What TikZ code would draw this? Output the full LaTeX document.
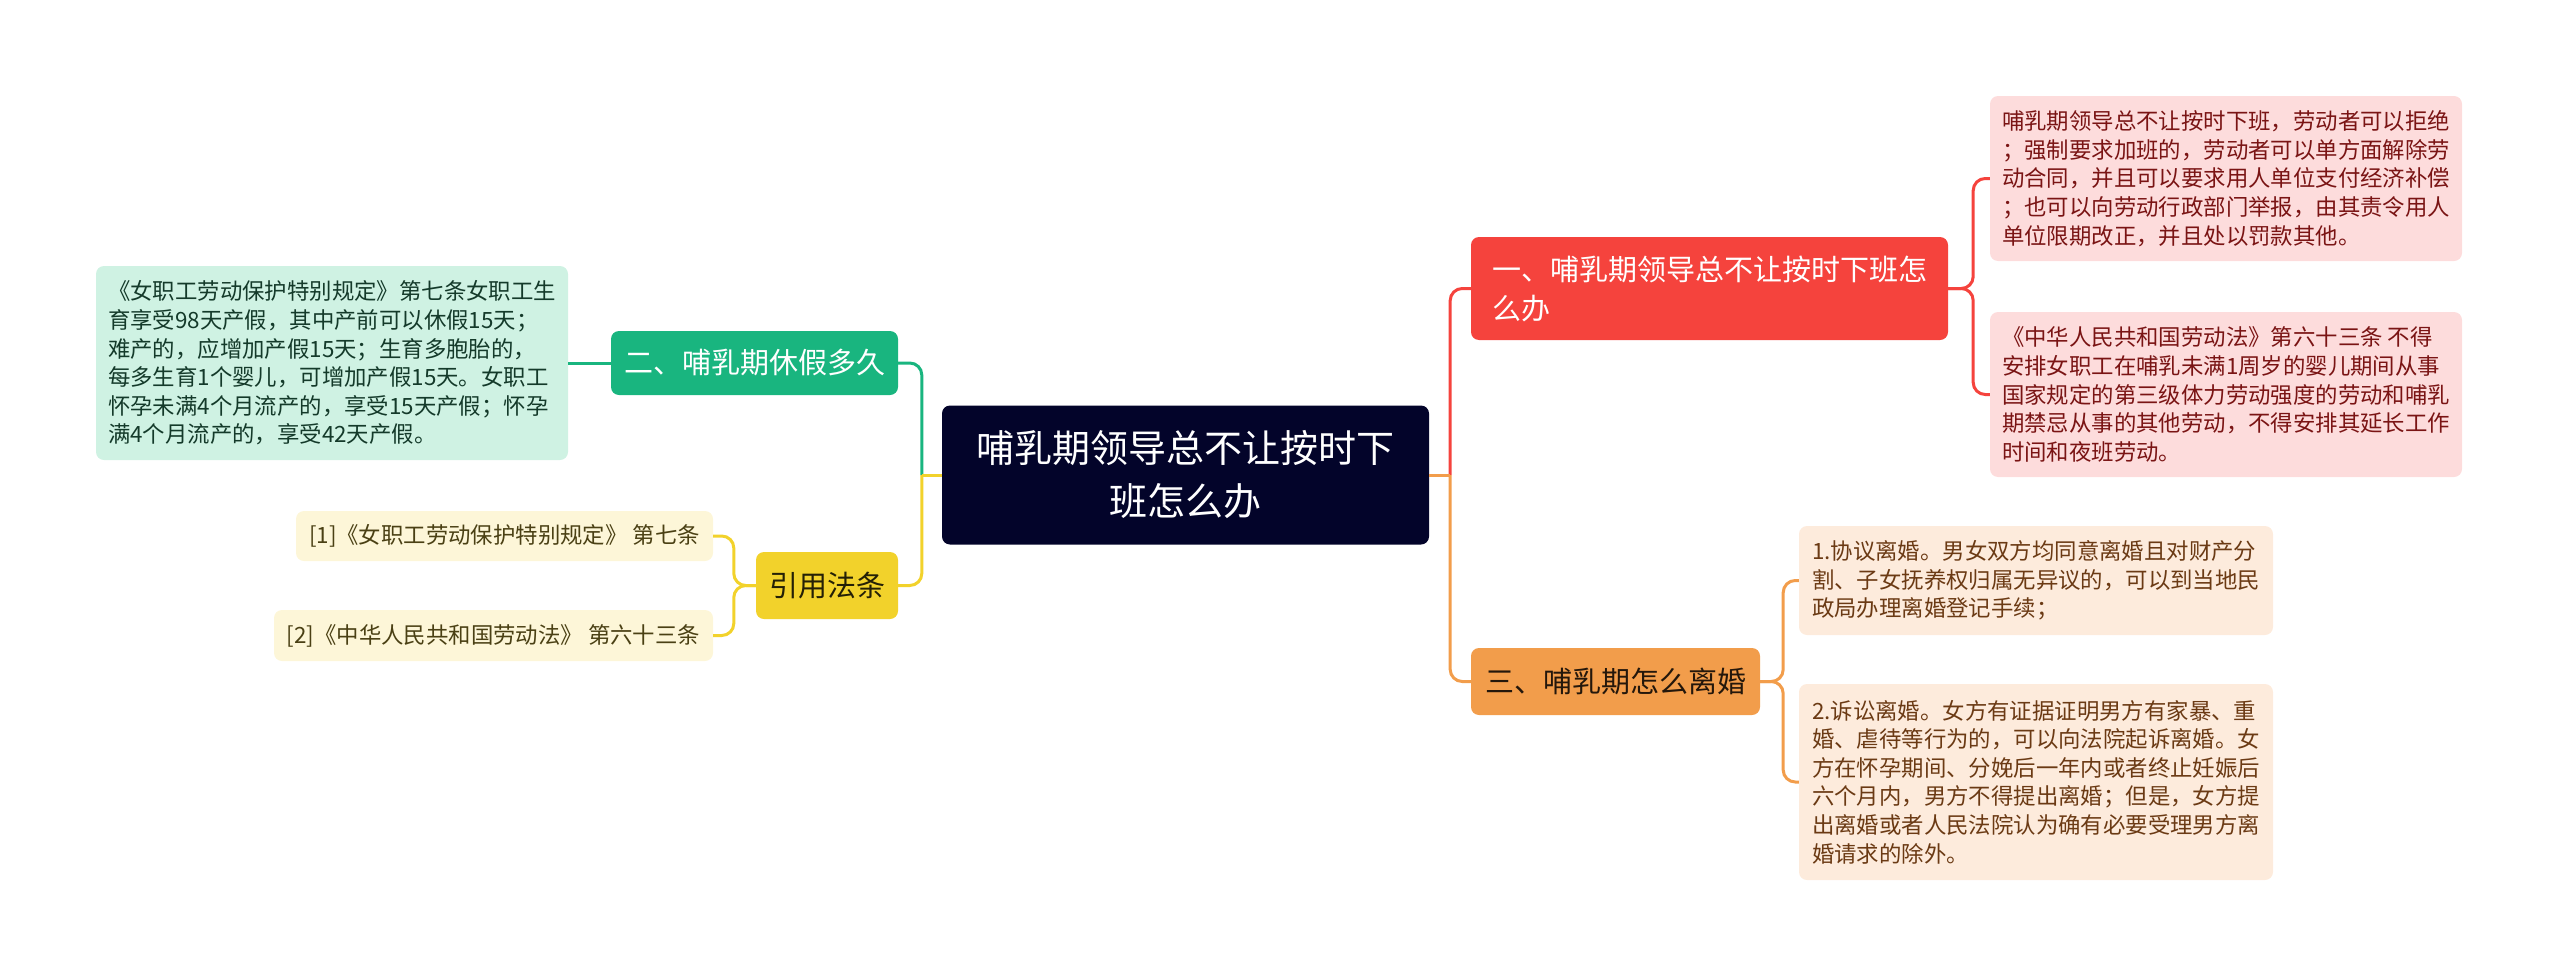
\documentclass[tikz,border=0pt]{standalone}
\usepackage{fontspec}
\setmainfont{Noto Sans CJK SC}
\definecolor{rootc}{HTML}{03042A}
\definecolor{redc}{HTML}{F5433D}
\definecolor{redleaf}{HTML}{FDDCDC}
\definecolor{redtext}{HTML}{7A1414}
\definecolor{orangec}{HTML}{F29D4B}
\definecolor{orangeleaf}{HTML}{FDEBDC}
\definecolor{orangetext}{HTML}{6B3A14}
\definecolor{greenc}{HTML}{19B57F}
\definecolor{greenleaf}{HTML}{CFF2E3}
\definecolor{greentext}{HTML}{143A2A}
\definecolor{yellowc}{HTML}{F2D22B}
\definecolor{yellowleaf}{HTML}{FDF6D8}
\definecolor{yellowtext}{HTML}{4A4014}
\newcommand\fRoot{\fontsize{38}{53}\selectfont}
\newcommand\fBranch{\fontsize{29}{39}\selectfont}
\newcommand\fLeaf{\fontsize{22.4}{28.6}\selectfont}
\begin{document}
\begin{tikzpicture}[x=1pt,y=-1pt,
  box/.style={rounded corners=8pt, inner sep=0pt, align=left},
  rootbox/.style={box, fill=rootc, text=white, align=center, font=\fRoot},
  branchbox/.style={box, font=\fBranch},
  leafbox/.style={box, font=\fLeaf},
  conn/.style={line width=3pt, rounded corners=12pt},
  stub/.style={line width=3pt}
]
\useasboundingbox (0,0) rectangle (2560,977);

% root
\node[rootbox, minimum width=487pt, minimum height=139pt] (root) at (1185.5,475)
  {哺乳期领导总不让按时下\\班怎么办};

% right branches
\node[branchbox, fill=redc, text=white, minimum width=477pt, minimum height=103pt] (red) at (1709.5,288.5)
  {一、哺乳期领导总不让按时下班怎\\么办};
\node[branchbox, fill=orangec, text=black!85!orangec, minimum width=289pt, minimum height=67pt] (orange) at (1615.5,681.5)
  {三、哺乳期怎么离婚};

% left branches
\node[branchbox, fill=greenc, text=white, minimum width=287pt, minimum height=64pt] (green) at (754.5,363)
  {二、哺乳期休假多久};
\node[branchbox, fill=yellowc, text=black!85!yellowc, minimum width=142pt, minimum height=67pt] (yellow) at (827,585.5)
  {引用法条};

% red leaves
\node[leafbox, fill=redleaf, text=redtext, minimum width=472pt, minimum height=165pt] (rl1) at (2226,178.5)
  {哺乳期领导总不让按时下班，劳动者可以拒绝\\；强制要求加班的，劳动者可以单方面解除劳\\动合同，并且可以要求用人单位支付经济补偿\\；也可以向劳动行政部门举报，由其责令用人\\单位限期改正，并且处以罚款其他。};
\node[leafbox, fill=redleaf, text=redtext, minimum width=472pt, minimum height=165pt] (rl2) at (2226,394.5)
  {《中华人民共和国劳动法》第六十三条 不得\\安排女职工在哺乳未满1周岁的婴儿期间从事\\国家规定的第三级体力劳动强度的劳动和哺乳\\期禁忌从事的其他劳动，不得安排其延长工作\\时间和夜班劳动。};

% orange leaves
\node[leafbox, fill=orangeleaf, text=orangetext, minimum width=474pt, minimum height=109pt] (ol1) at (2036,580.5)
  {1.协议离婚。男女双方均同意离婚且对财产分\\割、子女抚养权归属无异议的，可以到当地民\\政局办理离婚登记手续；};
\node[leafbox, fill=orangeleaf, text=orangetext, minimum width=474pt, minimum height=196pt] (ol2) at (2036,782)
  {2.诉讼离婚。女方有证据证明男方有家暴、重\\婚、虐待等行为的，可以向法院起诉离婚。女\\方在怀孕期间、分娩后一年内或者终止妊娠后\\六个月内，男方不得提出离婚；但是，女方提\\出离婚或者人民法院认为确有必要受理男方离\\婚请求的除外。};

% green leaf
\node[leafbox, fill=greenleaf, text=greentext, minimum width=472pt, minimum height=194pt] (gl) at (332,363)
  {《女职工劳动保护特别规定》第七条女职工生\\育享受98天产假，其中产前可以休假15天；\\难产的，应增加产假15天；生育多胞胎的，\\每多生育1个婴儿，可增加产假15天。女职工\\怀孕未满4个月流产的，享受15天产假；怀孕\\满4个月流产的，享受42天产假。};

% yellow leaves
\node[leafbox, fill=yellowleaf, text=yellowtext, minimum width=417pt, minimum height=50pt] (yl1) at (504.5,536)
  {[1]《女职工劳动保护特别规定》 第七条};
\node[leafbox, fill=yellowleaf, text=yellowtext, minimum width=439pt, minimum height=51pt] (yl2) at (493.5,635.5)
  {[2]《中华人民共和国劳动法》 第六十三条};

% junctions
\coordinate (jl) at ([xshift=-20pt]root.west);
\coordinate (jr) at ([xshift=21pt]root.east);

% root connectors
\draw[conn, greenc] (jl) |- (green.east);
\draw[conn, yellowc] (jl) |- (yellow.east);
\draw[stub, yellowc] (root.west) -- (jl);
\draw[conn, redc] (jr) |- (red.west);
\draw[conn, orangec] (jr) |- (orange.west);
\draw[stub, orangec] (root.east) -- (jr);

% branch to leaves
\draw[conn, redc] (red.east) -- ++(25,0) |- (rl1.west);
\draw[conn, redc] (red.east) -- ++(25,0) |- (rl2.west);
\draw[conn, orangec] (orange.east) -- ++(23,0) |- (ol1.west);
\draw[conn, orangec] (orange.east) -- ++(23,0) |- (ol2.west);
\draw[stub, greenc] (green.west) -- (gl.east);
\draw[conn, yellowc] (yellow.west) -- ++(-22,0) |- (yl1.east);
\draw[conn, yellowc] (yellow.west) -- ++(-22,0) |- (yl2.east);
\end{tikzpicture}
\end{document}
